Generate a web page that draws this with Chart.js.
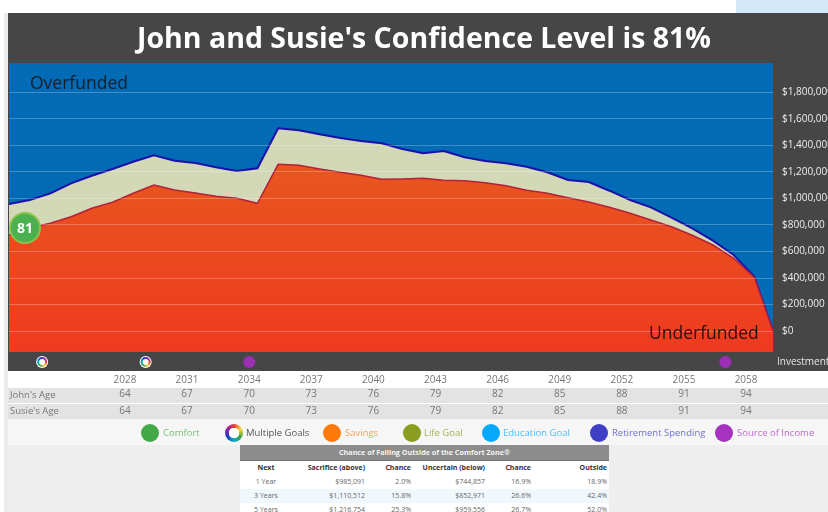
<!DOCTYPE html>
<html>
<head>
<meta charset="utf-8">
<title>Confidence Level</title>
<script src="https://cdn.jsdelivr.net/npm/chart.js@4"></script>
<style>
html, body { margin: 0; padding: 0; }
body { width: 828px; height: 512px; overflow: hidden; position: relative; background: #fff; font-family: "Open Sans", sans-serif; }
.box { position: absolute; }
.txt { position: absolute; white-space: nowrap; }
#myChart { position: absolute; left: 0; top: 0; }
#title { left: 8px; width: 832px; top: 13px; height: 50px; line-height: 49px; text-align: center; color: #fff; font-size: 28.5px; font-weight: 700; }
.dot { position: absolute; top: 424px; width: 18px; height: 18px; border-radius: 50%; }
.leg { position: absolute; top: 425px; font-size: 9.5px; line-height: 16px; white-space: nowrap; }
#zone { position: absolute; left: 240px; top: 445px; width: 369px; height: 67px; background: #fff; overflow: hidden; }
#zoneHead { height: 15px; line-height: 14px; background: #8c8c8c; border-bottom: 1px solid #777; color: #f4f4f4; font-size: 7.2px; font-weight: 700; text-align: center; }
#zone table { border-collapse: collapse; table-layout: fixed; width: 369px; font-size: 7px; color: #666; }
#zone td, #zone th { padding: 0 2px 0 0; height: 14px; line-height: 14px; text-align: right; }
#zone th { color: #333; font-weight: 700; }
#zone td:first-child, #zone th:first-child { text-align: center; }
</style>
</head>
<body>
<div class="box" style="left:0;top:13px;width:8px;height:499px;background:#fff"></div>
<div class="box" style="left:4px;top:13px;width:4px;height:499px;background:#ebebeb"></div>
<div class="box" style="left:736px;top:0;width:92px;height:13px;background:#d2e8f6"></div>
<div class="box" style="left:8px;top:13px;width:820px;height:358px;background:#464646"></div>
<div class="box" style="left:9px;top:63px;width:764px;height:289px;background:#036ab6"></div>
<div class="box" style="left:8px;top:388px;width:820px;height:15px;background:#e3e3e3"></div>
<div class="box" style="left:8px;top:404px;width:820px;height:15px;background:#e3e3e3"></div>
<div class="box" style="left:8px;top:419px;width:820px;height:26px;background:#f6f6f6"></div>
<div class="box" style="left:8px;top:445px;width:820px;height:67px;background:#eeeeee"></div>

<canvas id="myChart" width="828" height="425"></canvas>

<div class="txt" id="title">John and Susie's Confidence Level is 81%</div>
<div class="txt" style="left:30px;top:70px;font-size:17.5px;line-height:25px;color:#14202c">Overfunded</div>
<div class="txt" style="left:649px;top:319px;font-size:17.5px;line-height:26px;color:#2a0f0c">Underfunded</div>
<div class="txt" style="left:777px;top:353px;font-size:10px;line-height:16px;color:#e6e6e6">Investment</div>
<div class="txt" style="left:10px;top:387px;font-size:9.5px;line-height:16px;color:#777">John's Age</div>
<div class="txt" style="left:10px;top:403px;font-size:9.5px;line-height:16px;color:#777">Susie's Age</div>
<div class="box" style="left:9px;top:212px;width:28px;height:28px;border-radius:50%;background:#4caf50;border:2px solid #8bc34a;color:#fff;font-size:14px;font-weight:700;line-height:28px;text-align:center">81</div>

<div id="legend"></div>
<div id="zone">
    <div id="zoneHead">Chance of Falling Outside of the Comfort Zone®</div>
    <table>
        <colgroup><col style="width:54px"><col style="width:73px"><col style="width:46px"><col style="width:74px"><col style="width:46px"><col style="width:76px"></colgroup>
        <tbody id="zoneBody"></tbody>
    </table>
</div>

<script>
const years = [2022.4, 2023.4, 2024.4, 2025.4, 2026.4, 2027.4, 2028.4, 2029.4, 2030.4, 2031.4,
    2032.4, 2033.4, 2034.4, 2035.4, 2036.4, 2037.4, 2038.4, 2039.4, 2040.4, 2041.4,
    2042.4, 2043.4, 2044.4, 2045.4, 2046.4, 2047.4, 2048.4, 2049.4, 2050.4, 2051.4,
    2052.4, 2053.4, 2054.4, 2055.4, 2056.4, 2057.4, 2058.4, 2059.3];
const upper = [958500, 988700, 1039000, 1114700, 1172000, 1222600, 1277700, 1326000, 1285000, 1267900,
    1235400, 1207500, 1227900, 1529800, 1514700, 1484500, 1456600, 1433900, 1416600, 1373600,
    1341100, 1358500, 1310900, 1283000, 1265600, 1240000, 1197700, 1139600, 1124500, 1058800,
    988700, 933600, 855100, 775100, 681500, 573600, 409800, 0];
const lower = [724500, 779600, 812800, 862600, 926000, 971300, 1039200, 1101900, 1064100, 1041500,
    1016600, 1001500, 963700, 1258000, 1250500, 1222600, 1197700, 1175000, 1144800, 1147100,
    1152400, 1137300, 1134300, 1119200, 1096600, 1061800, 1039200, 1006000, 973600, 933600,
    888300, 837700, 787100, 722200, 649000, 548700, 403800, 0];

const tickYears = [2028, 2031, 2034, 2037, 2040, 2043, 2046, 2049, 2052, 2055, 2058];
const johnAges = [64, 67, 70, 73, 76, 79, 82, 85, 88, 91, 94];
const susieAges = [64, 67, 70, 73, 76, 79, 82, 85, 88, 91, 94];
const moneyTicks = [0, 200000, 400000, 600000, 800000, 1000000, 1200000, 1400000, 1600000, 1800000];

const goalYears = [2024, 2029, 2034, 2057];
const goalKinds = ['multi', 'multi', 'income', 'income'];

const legendNames = ['Comfort', 'Multiple Goals', 'Savings', 'Life Goal', 'Education Goal', 'Retirement Spending', 'Source of Income'];
const legendDots = ['#43a847', 'multi', '#ff7a0a', '#8a9d1f', '#06a8fb', '#3f3fc4', '#a533c0'];
const legendText = ['#74c276', '#555555', '#ff9f57', '#a3b355', '#4dbdfb', '#6f6fd4', '#c268d8'];
const legendDotX = [141, 225, 323, 403, 482, 590, 715];
const legendTextX = [163, 246, 345, 424, 503, 612, 737];

const zoneHeads = ['Next', 'Sacrifice (above)', 'Chance', 'Uncertain (below)', 'Chance', 'Outside'];
const zoneNext = ['1 Year', '3 Years', '5 Years'];
const zoneSacrifice = ['$985,091', '$1,110,512', '$1,216,754'];
const zoneSacChance = ['2.0%', '15.8%', '25.3%'];
const zoneUncertain = ['$744,857', '$852,971', '$959,556'];
const zoneUncChance = ['16.9%', '26.6%', '26.7%'];
const zoneOutside = ['18.9%', '42.4%', '52.0%'];

const ringColors = '#e53935, #fdd835, #43a047, #00acc1, #1e3fc4, #8e24aa, #e53935';

// legend row
for (let i = 0; i < legendNames.length; i++) {
    const d = document.createElement('div');
    d.className = 'dot';
    d.style.left = legendDotX[i] + 'px';
    if (legendDots[i] === 'multi') {
        d.style.background = 'radial-gradient(circle, #fff 0 5px, transparent 5.5px), conic-gradient(' + ringColors + ')';
    } else {
        d.style.background = legendDots[i];
    }
    document.getElementById('legend').appendChild(d);
    const t = document.createElement('div');
    t.className = 'leg';
    t.style.left = legendTextX[i] + 'px';
    t.style.color = legendText[i];
    t.textContent = legendNames[i];
    document.getElementById('legend').appendChild(t);
}

// table under the chart
let rows = '<tr>' + zoneHeads.map(function (h) { return '<th>' + h + '</th>'; }).join('') + '</tr>';
for (let i = 0; i < zoneNext.length; i++) {
    rows += '<tr' + (i === 1 ? ' style="background:#f0f7fd"' : '') + '><td>' + zoneNext[i] + '</td><td>' + zoneSacrifice[i] + '</td><td>' + zoneSacChance[i]
        + '</td><td>' + zoneUncertain[i] + '</td><td>' + zoneUncChance[i] + '</td><td>' + zoneOutside[i] + '</td></tr>';
}
document.getElementById('zoneBody').innerHTML = rows;

// ages under the year ticks and goal dots in the dark strip
const stripPlugin = {
    id: 'strip',
    afterDraw: function (chart) {
        const c = chart.ctx;
        const x = chart.scales.x;
        c.save();
        c.font = '10px "Open Sans"';
        c.fillStyle = '#777';
        c.textAlign = 'center';
        c.textBaseline = 'middle';
        for (let i = 0; i < tickYears.length; i++) {
            const px = x.getPixelForValue(tickYears[i]);
            c.fillText(johnAges[i], px, 394.5);
            c.fillText(susieAges[i], px, 411.5);
        }
        for (let i = 0; i < goalYears.length; i++) {
            const px = x.getPixelForValue(goalYears[i]);
            if (goalKinds[i] === 'multi') {
                c.beginPath();
                c.arc(px, 362, 6, 0, Math.PI * 2);
                c.fillStyle = '#fff';
                c.fill();
                const g = c.createConicGradient(0, px, 362);
                const parts = ['#e53935', '#fdd835', '#43a047', '#00acc1', '#1e3fc4', '#8e24aa', '#e53935'];
                parts.forEach(function (p, n) { g.addColorStop(n / 6, p); });
                c.beginPath();
                c.arc(px, 362, 4, 0, Math.PI * 2);
                c.strokeStyle = g;
                c.lineWidth = 2;
                c.stroke();
            } else {
                c.beginPath();
                c.arc(px, 362, 6, 0, Math.PI * 2);
                c.fillStyle = '#9c30b4';
                c.fill();
            }
        }
        c.restore();
    }
};

const ctx = document.getElementById('myChart');
new Chart(ctx, {
    type: 'line',
    plugins: [stripPlugin],
    data: {
        labels: years,
        datasets: [{
                label: 'Uncertain',
                data: lower,
                borderColor: '#b3213a',
                borderWidth: 1.5,
                pointRadius: 0,
                tension: 0,
                fill: 'start',
                backgroundColor: function (context) {
                    const area = context.chart.chartArea;
                    if (!area) {
                        return '#e94e20';
                    }
                    const g = context.chart.ctx.createLinearGradient(0, area.top, 0, area.bottom);
                    g.addColorStop(0.35, '#e8561f');
                    g.addColorStop(1, '#ef3a20');
                    return g;
                }
            }, {
                label: 'Sacrifice',
                data: upper,
                borderColor: '#1a10aa',
                borderWidth: 2,
                pointRadius: 0,
                tension: 0,
                fill: '-1',
                backgroundColor: '#d3d9b6'
            }]
    },
    options: {
        responsive: false,
        animation: false,
        layout: {
            padding: { left: 9, top: 63, right: 0, bottom: 0 }
        },
        plugins: {
            legend: { display: false },
            tooltip: { enabled: false }
        },
        scales: {
            x: {
                type: 'linear',
                min: 2022.4,
                max: 2059.3,
                grid: { display: false },
                border: { display: false },
                afterBuildTicks: function (scale) {
                    scale.ticks = tickYears.map(function (v) { return { value: v }; });
                },
                afterFit: function (scale) {
                    scale.height = 73;
                },
                ticks: {
                    autoSkip: false,
                    maxRotation: 0,
                    padding: 14,
                    color: '#777',
                    font: { family: 'Open Sans', size: 10 },
                    callback: function (v) { return String(v); }
                }
            },
            y: {
                position: 'right',
                min: -158490,
                max: 2022640,
                border: { display: false },
                grid: {
                    color: 'rgba(255,255,255,0.25)',
                    drawTicks: false,
                    z: 1
                },
                afterBuildTicks: function (scale) {
                    scale.ticks = moneyTicks.map(function (v) { return { value: v }; });
                },
                afterFit: function (scale) {
                    scale.width = 55;
                },
                ticks: {
                    autoSkip: false,
                    padding: 9,
                    color: '#eeeeee',
                    font: { family: 'Open Sans', size: 10 },
                    callback: function (v) { return '$' + v.toLocaleString('en-US'); }
                }
            }
        }
    }
});
</script>
</body>
</html>
